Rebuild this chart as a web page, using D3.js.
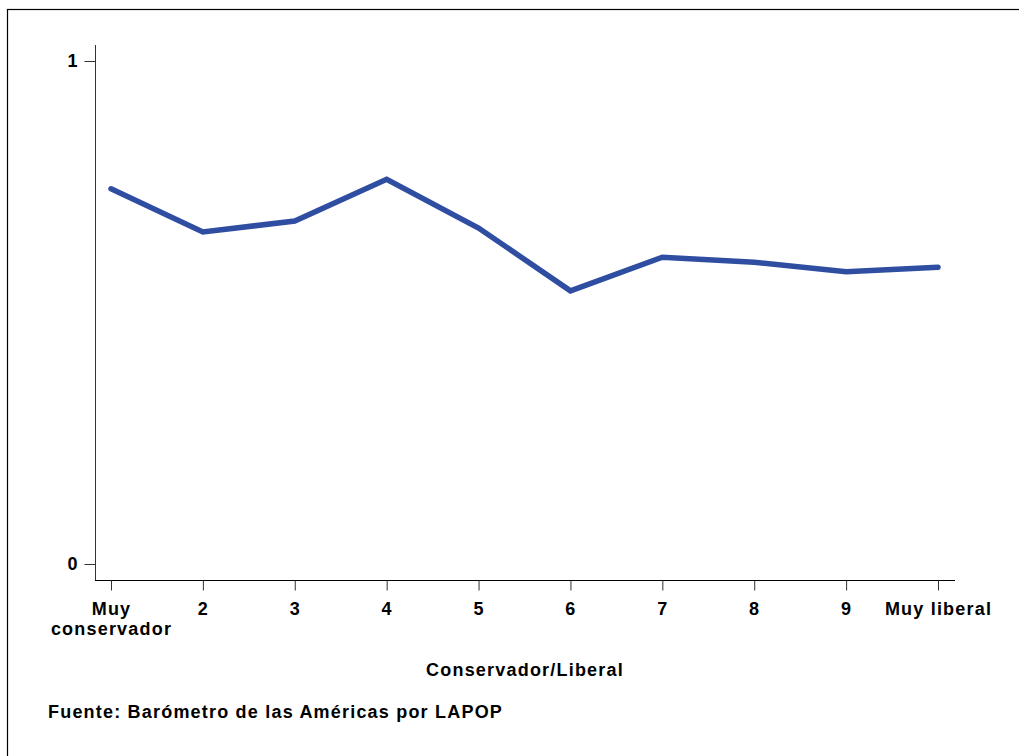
<!DOCTYPE html>
<html>
<head>
<meta charset="utf-8">
<script src="https://cdn.jsdelivr.net/npm/d3@7"></script>
<style>
  html, body { margin: 0; padding: 0; background: #fff; }
  svg { display: block; }
  text { font-family: "Liberation Sans", Arial, sans-serif; font-weight: bold; fill: #000; }
</style>
</head>
<body>
<script>
const categories = ["Muy\nconservador", "2", "3", "4", "5", "6", "7", "8", "9", "Muy liberal"];
const values = [0.746, 0.660, 0.682, 0.765, 0.668, 0.543, 0.610, 0.600, 0.581, 0.590];
const yTicks = [0, 1];
const xTitle = "Conservador/Liberal";
const source = "Fuente: Barómetro de las Américas por LAPOP";

const W = 1019, H = 756;
const svg = d3.select("body").append("svg").attr("width", W).attr("height", H);

svg.append("rect").attr("x", 7.5).attr("y", 9.5).attr("width", W + 20).attr("height", H + 20)
  .attr("fill", "none").attr("stroke", "#000").attr("stroke-width", 1.2);

const x = d3.scaleLinear().domain([0, categories.length - 1]).range([111, 938]);
const y = d3.scaleLinear().domain([0, 1]).range([564, 61]);

// Y axis
const yAxis = svg.append("g").attr("transform", "translate(95.5,0)")
  .call(d3.axisLeft(y).tickValues(yTicks).tickFormat(d3.format("d")).tickSize(11).tickPadding(7));
yAxis.select(".domain").attr("d", "M0,45V580.5").attr("stroke", "#333");
yAxis.selectAll(".tick line").attr("stroke", "#333");
yAxis.selectAll(".tick text").attr("font-size", 18).attr("font-family", "Liberation Sans, Arial, sans-serif")
  .attr("font-weight", "bold").attr("fill", "#000");

// X axis
const xAxis = svg.append("g").attr("transform", "translate(0,580.5)")
  .call(d3.axisBottom(x).tickValues(d3.range(categories.length)).tickFormat(() => "").tickSize(10));
xAxis.select(".domain").attr("d", "M95,0H955").attr("stroke", "#000");
xAxis.selectAll(".tick line").attr("stroke", "#333");
xAxis.selectAll(".tick").each(function(d, i) {
  const lines = categories[i].split("\n");
  const t = d3.select(this).append("text").attr("text-anchor", "middle")
    .attr("font-size", 18).attr("letter-spacing", "1.2px");
  lines.forEach((ln, k) => {
    t.append("tspan").attr("x", 0).attr("y", 34 + k * 20).text(ln);
  });
});

// Line
const line = d3.line().x((d, i) => x(i)).y(d => y(d));
svg.append("path").datum(values).attr("d", line)
  .attr("fill", "none").attr("stroke", "#2F4EA2").attr("stroke-width", 5.5)
  .attr("stroke-linejoin", "miter").attr("stroke-linecap", "round");

// Axis title
svg.append("text").attr("x", 525).attr("y", 676).attr("text-anchor", "middle")
  .attr("font-size", 18).attr("letter-spacing", "1.2px").text(xTitle);

// Source
svg.append("text").attr("x", 48).attr("y", 718).attr("text-anchor", "start")
  .attr("font-size", 18).attr("letter-spacing", "1.2px").text(source);
</script>
</body>
</html>
